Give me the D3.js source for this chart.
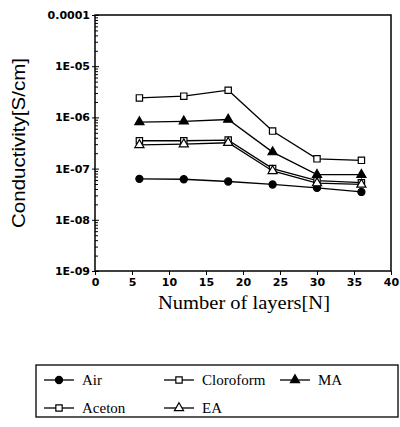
<!DOCTYPE html>
<html><head><meta charset="utf-8">
<script src="https://cdn.jsdelivr.net/npm/d3@7"></script>
<style>body{margin:0;background:#fff}</style>
</head><body><svg id="c" width="400" height="427"></svg>
<script>
const layers = [6, 12, 18, 24, 30, 36];
const air = [6.3e-8, 6.2e-8, 5.6e-8, 4.9e-8, 4.2e-8, 3.5e-8];
const cloroform = [2.4e-6, 2.6e-6, 3.4e-6, 5.4e-7, 1.55e-7, 1.45e-7];
const ma = [8.1e-7, 8.4e-7, 9.1e-7, 2.1e-7, 7.6e-8, 7.6e-8];
const aceton = [3.5e-7, 3.5e-7, 3.6e-7, 1.0e-7, 5.8e-8, 5.3e-8];
const ea = [2.9e-7, 3.0e-7, 3.2e-7, 9.0e-8, 5.2e-8, 4.9e-8];
const seriesNames = ["Air", "Cloroform", "MA", "Aceton", "EA"];
const xTicks = [0, 5, 10, 15, 20, 25, 30, 35, 40];
const yTicks = [1e-9, 1e-8, 1e-7, 1e-6, 1e-5, 1e-4];
const yTickLabels = ["1E-09", "1E-08", "1E-07", "1E-06", "1E-05", "0.0001"];

const series = [
  {name: "Air", values: air, sym: "circle", fill: true},
  {name: "Cloroform", values: cloroform, sym: "square", fill: false},
  {name: "MA", values: ma, sym: "triangle", fill: true},
  {name: "Aceton", values: aceton, sym: "square", fill: false},
  {name: "EA", values: ea, sym: "triangle", fill: false}
];

const svg = d3.select("#c");
const L = 95, R = 391, T = 15, B = 271;
const x = d3.scaleLinear().domain([0, 40]).range([L, R]);
const y = d3.scaleLog().domain([1e-9, 1e-4]).range([B, T]);

// frame
svg.append("rect").attr("x", L).attr("y", T).attr("width", R - L).attr("height", B - T)
  .attr("fill", "none").attr("stroke", "#000").attr("stroke-width", 1.5);

// y axis
const minor = [];
for (let e = -9; e < -4; e++) for (let m = 2; m <= 9; m++) minor.push(m * Math.pow(10, e));
svg.append("g").attr("transform", `translate(${L},0)`)
  .call(d3.axisRight(y).tickValues(minor).tickSize(3).tickFormat(""))
  .call(g => g.select(".domain").remove());
const ya = svg.append("g").attr("transform", `translate(${L},0)`)
  .call(d3.axisLeft(y).tickValues(yTicks).tickSize(3).tickPadding(2)
    .tickFormat((d, i) => yTickLabels[i]));
ya.select(".domain").remove();
ya.selectAll("text").attr("font-family", "DejaVu Sans").attr("font-weight", "bold")
  .attr("font-size", 11).attr("fill", "#000");
svg.append("g").attr("transform", `translate(${L},0)`)
  .call(d3.axisRight(y).tickValues(yTicks).tickSize(4).tickFormat(""))
  .call(g => g.select(".domain").remove());

// x axis
const xa = svg.append("g").attr("transform", `translate(0,${B})`)
  .call(d3.axisBottom(x).tickValues(xTicks).tickSize(4).tickPadding(3));
xa.select(".domain").remove();
xa.selectAll("text").attr("font-family", "DejaVu Sans").attr("font-weight", "bold")
  .attr("font-size", 11).attr("fill", "#000");

// titles
svg.append("text").attr("transform", "translate(25,143) rotate(-90)")
  .attr("text-anchor", "middle").attr("font-family", "Liberation Sans")
  .attr("font-size", 18).attr("textLength", 170).attr("lengthAdjust", "spacingAndGlyphs")
  .text("Conductivity[S/cm]");
svg.append("text").attr("x", 244).attr("y", 309).attr("text-anchor", "middle")
  .attr("font-family", "Liberation Serif").attr("font-size", 18)
  .attr("textLength", 172).attr("lengthAdjust", "spacingAndGlyphs")
  .text("Number of layers[N]");

const symType = {circle: d3.symbolCircle, square: d3.symbolSquare, triangle: d3.symbolTriangle};
function drawMarker(g, s, cx, cy) {
  const size = s.sym === "circle" ? 40 : (s.sym === "square" ? 40 : 36);
  g.append("path").attr("d", d3.symbol().type(symType[s.sym]).size(size)())
    .attr("transform", `translate(${cx},${cy})`)
    .attr("fill", s.fill ? "#000" : "#fff").attr("stroke", "#000").attr("stroke-width", 1.2);
}

const line = d3.line().x((d, i) => x(layers[i])).y(d => y(d));
series.forEach(s => {
  svg.append("path").attr("d", line(s.values)).attr("fill", "none")
    .attr("stroke", "#000").attr("stroke-width", 1.3);
  const g = svg.append("g");
  s.values.forEach((v, i) => drawMarker(g, s, x(layers[i]), y(v)));
});

// legend
svg.append("rect").attr("x", 36).attr("y", 365).attr("width", 362).attr("height", 52)
  .attr("fill", "none").attr("stroke", "#000").attr("stroke-width", 1.3);
const legendPos = [
  {name: "Air", lx: 44, ly: 380},
  {name: "Cloroform", lx: 164, ly: 380},
  {name: "MA", lx: 280, ly: 380},
  {name: "Aceton", lx: 44, ly: 408},
  {name: "EA", lx: 164, ly: 408}
];
legendPos.forEach(p => {
  const s = series.find(d => d.name === p.name);
  const g = svg.append("g");
  g.append("line").attr("x1", p.lx).attr("x2", p.lx + 30).attr("y1", p.ly).attr("y2", p.ly)
    .attr("stroke", "#000").attr("stroke-width", 1.3);
  drawMarker(g, s, p.lx + 15, p.ly);
  g.append("text").attr("x", p.lx + 38).attr("y", p.ly + 5)
    .attr("font-family", "Liberation Serif").attr("font-size", 15).text(p.name);
});
</script></body></html>
